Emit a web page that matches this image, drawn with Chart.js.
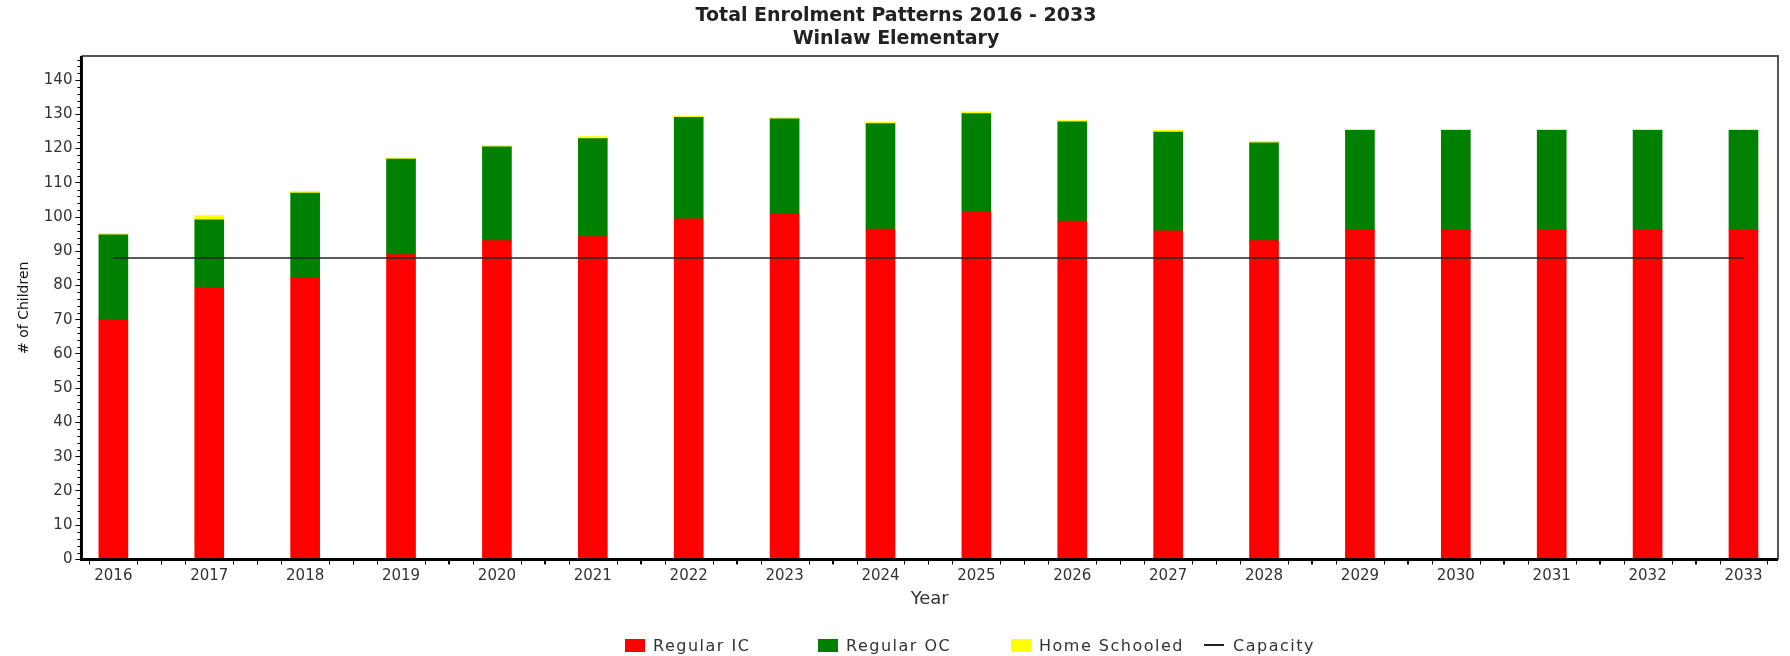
<!DOCTYPE html>
<html>
<head>
<meta charset="utf-8">
<title>Total Enrolment Patterns 2016 - 2033</title>
<script src="https://cdn.jsdelivr.net/npm/chart.js@4.4.1/dist/chart.umd.min.js"></script>
<style>
  html, body { margin: 0; padding: 0; background: #fff; }
  #wrap { position: relative; width: 1790px; height: 656px; }
  #legend { position: absolute; left: 625px; top: 636px; display: flex;
            font: 16px "DejaVu Sans", sans-serif; color: #333; letter-spacing: 1.5px; }
  .item { width: 193px; height: 18px; display: flex; align-items: center; white-space: nowrap; }
  .swatch { width: 20px; height: 13px; margin-right: 8px; flex: none; }
  .dash { width: 20px; height: 0; border-top: 2px solid #222; margin-right: 9px; flex: none; }
</style>
</head>
<body>
<div id="wrap">
  <canvas id="enrolChart" width="1790" height="656"></canvas>
  <div id="legend"></div>
</div>
<script>
const years = [2016, 2017, 2018, 2019, 2020, 2021, 2022, 2023, 2024,
               2025, 2026, 2027, 2028, 2029, 2030, 2031, 2032, 2033];
const regularIC = [70, 79.3, 82.2, 89, 93.1, 94.3, 99.5, 100.9, 96.5,
                   101.7, 98.8, 96, 93.1, 96.1, 96.1, 96.1, 96.1, 96.1];
const regularOC = [24.8, 19.9, 24.8, 27.9, 27.4, 28.6, 29.6, 27.8, 30.8,
                   28.5, 29, 28.8, 28.6, 29.2, 29.2, 29.2, 29.2, 29.2];
const homeSchooled = [0.4, 1.2, 0.4, 0.4, 0.4, 0.6, 0.4, 0.3, 0.4,
                      0.5, 0.4, 0.5, 0.4, 0.3, 0.3, 0.3, 0.3, 0.3];
const capacity = [88, 88, 88, 88, 88, 88, 88, 88, 88,
                  88, 88, 88, 88, 88, 88, 88, 88, 88];
const yMax = 147;
const yStep = 10;

const FONT = '"DejaVu Sans", sans-serif';
const pts = arr => years.map((yr, i) => ({ x: yr, y: arr[i] }));

// top/right frame, axis lines on top of bars, minor ticks
const plotFrame = {
  id: 'plotFrame',
  afterDatasetsDraw(chart) {
    const { ctx, chartArea: a, scales: { x, y } } = chart;
    ctx.save();
    ctx.strokeStyle = '#555';
    ctx.lineWidth = 2;
    ctx.beginPath();
    ctx.moveTo(a.left, a.top);
    ctx.lineTo(a.right, a.top);
    ctx.lineTo(a.right, a.bottom);
    ctx.stroke();

    ctx.strokeStyle = '#000';
    ctx.lineWidth = 3;
    ctx.beginPath();
    ctx.moveTo(a.left, a.top);
    ctx.lineTo(a.left, a.bottom);
    ctx.lineTo(a.right, a.bottom);
    ctx.stroke();

    ctx.lineWidth = 1;
    ctx.beginPath();
    for (let v = Math.ceil(x.min * 4) / 4; v <= x.max; v += 0.25) {
      if (Number.isInteger(v)) continue;
      const px = Math.round(x.getPixelForValue(v)) + 0.5;
      ctx.moveTo(px, a.bottom);
      ctx.lineTo(px, a.bottom + 5);
    }
    for (let v = 2; v < y.max; v += 2) {
      if (v % yStep === 0) continue;
      const py = Math.round(y.getPixelForValue(v)) + 0.5;
      ctx.moveTo(a.left - 4, py);
      ctx.lineTo(a.left, py);
    }
    ctx.stroke();
    ctx.restore();
  }
};

const chart = new Chart(document.getElementById('enrolChart').getContext('2d'), {
  type: 'bar',
  data: {
    datasets: [
      { label: 'Regular IC', data: pts(regularIC), backgroundColor: '#ff0000', barThickness: 29 },
      { label: 'Regular OC', data: pts(regularOC), backgroundColor: '#008000', barThickness: 29 },
      { label: 'Home Schooled', data: pts(homeSchooled), backgroundColor: '#ffff00', barThickness: 29 },
      {
        type: 'line',
        label: 'Capacity',
        data: pts(capacity),
        borderColor: '#222',
        borderWidth: 1.5,
        pointRadius: 0,
        fill: false,
        stack: 'cap',
        order: -1
      }
    ]
  },
  options: {
    responsive: false,
    animation: false,
    layout: { padding: { top: 4, left: 14, right: 12, bottom: 46 } },
    plugins: {
      legend: { display: false },
      tooltip: { enabled: false },
      title: {
        display: true,
        text: ['Total Enrolment Patterns 2016 - 2033', 'Winlaw Elementary'],
        color: '#222',
        font: { family: FONT, size: 19, weight: 'bold', lineHeight: 1.24 },
        padding: { top: 0, bottom: 5 }
      }
    },
    scales: {
      x: {
        type: 'linear',
        min: 2015.667,
        max: 2033.36,
        stacked: true,
        offset: false,
        border: { display: false },
        grid: { drawOnChartArea: false, tickLength: 5, tickColor: '#000' },
        ticks: {
          stepSize: 1,
          includeBounds: false,
          autoSkip: false,
          maxRotation: 0,
          padding: 3,
          color: '#333',
          font: { family: FONT, size: 15 },
          callback: v => String(v)
        },
        title: {
          display: true,
          text: 'Year',
          color: '#333',
          font: { family: FONT, size: 18 },
          padding: { top: 0, bottom: 0 }
        }
      },
      y: {
        min: 0,
        max: yMax,
        stacked: true,
        border: { display: false },
        grid: { drawOnChartArea: false, tickLength: 6, tickColor: '#000' },
        ticks: {
          stepSize: yStep,
          includeBounds: false,
          padding: 3,
          color: '#333',
          font: { family: FONT, size: 15 },
          crossAlign: 'near'
        },
        title: {
          display: true,
          text: '# of Children',
          color: '#111',
          font: { family: FONT, size: 14 },
          padding: { top: 2, bottom: 8 }
        }
      }
    }
  },
  plugins: [plotFrame]
});

// legend in fixed-width columns
const legendEl = document.getElementById('legend');
chart.data.datasets.forEach(ds => {
  const item = document.createElement('div');
  item.className = 'item';
  const mark = document.createElement('span');
  if (ds.type === 'line') {
    mark.className = 'dash';
  } else {
    mark.className = 'swatch';
    mark.style.background = ds.backgroundColor;
  }
  const txt = document.createElement('span');
  txt.textContent = ds.label;
  item.appendChild(mark);
  item.appendChild(txt);
  legendEl.appendChild(item);
});
</script>
</body>
</html>
